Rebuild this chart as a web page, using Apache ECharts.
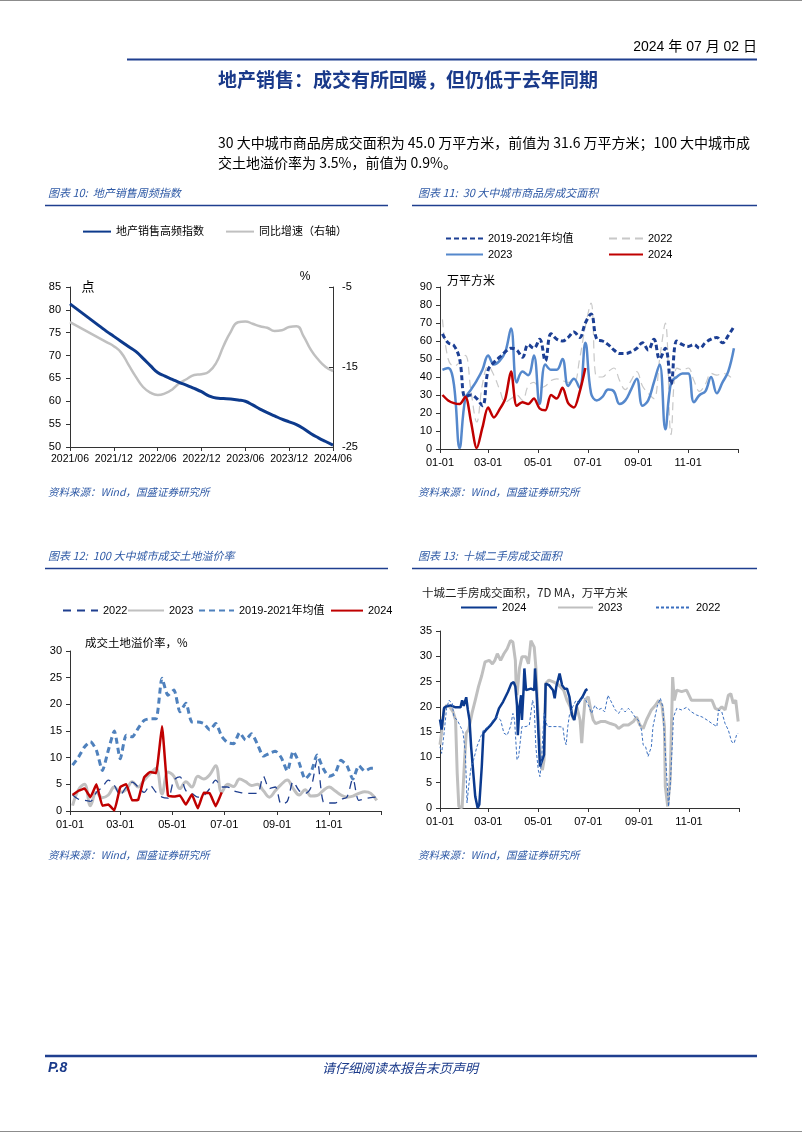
<!DOCTYPE html>
<html><head><meta charset="utf-8">
<script src="https://cdn.jsdelivr.net/npm/echarts@6/dist/echarts.min.js"></script>
<style>html,body{margin:0;padding:0;background:#fff}#c{width:802px;height:1133px}</style>
</head><body><div id="c"></div>
<script>
// ---------- Chart 10 data (monthly) ----------
const cat10 = ['2021/06','2021/07','2021/08','2021/09','2021/10','2021/11','2021/12',
  '2022/01','2022/02','2022/03','2022/04','2022/05','2022/06','2022/07','2022/08','2022/09','2022/10','2022/11','2022/12',
  '2023/01','2023/02','2023/03','2023/04','2023/05','2023/06','2023/07','2023/08','2023/09','2023/10','2023/11','2023/12',
  '2024/01','2024/02','2024/03','2024/04','2024/05','2024/06'];
const idx10 = [81.3,80.1,78.9,77.7,76.5,75.3,74.2,73.1,72.0,70.9,69.4,67.8,66.3,65.5,64.8,64.1,63.5,62.8,62.1,
  61.2,60.7,60.6,60.5,60.3,60.0,59.2,58.3,57.5,56.8,56.1,55.5,54.9,54.0,52.9,52.0,51.2,50.4];
const yoy10 = [-9.4,-9.9,-10.4,-10.9,-11.4,-11.9,-12.4,-13.2,-14.7,-16.2,-17.5,-18.2,-18.5,-18.3,-17.8,-17.0,-16.5,-16.0,-15.9,
  -15.6,-14.5,-12.4,-10.6,-9.4,-9.3,-9.6,-9.9,-10.1,-10.5,-10.4,-10.0,-9.9,-11.2,-12.9,-14.1,-15.0,-15.5];

// ---------- Chart 11 data (weekly, first week '01-04') ----------
const c11Avg = [64,59,57.5,50,29,30,28,24,44,48,51,54,56,55,51,58,56,61,49,64,61,60,62,65,62,70,75,61,60,58,55,53,53,54,56,59,55,61,50,56,36,60,58,57,58,56,59,61,62,59,63,68];
const c11Y2022 = [72,50,46,48,52,32,15,36,46,41,33,26,28,30,27,35,37,34,35,38,39,38,37,37,50,68,81,40,40,43,45,38,33,38,43,35,31,28,50,70,8,45,44,45,38,32,36,42,41,42,41,38];
const c11Y2023 = [44,45,36,0.5,28,33,38,44,52,47,49,54,67,37,43,41,52,25,47,44,44,50,35,39,34,59,31,27,29,33,32,25,27,33,39,24,27,37,47,11,37,40,42,42,26,30,32,40,31,37,43,56];
const c11Y2024 = [30,27,25.5,25,29,15,0.5,12,23,17.5,22,28,43,24,26,25,28,22.5,21.5,30,28,34,25.5,23,31.6,45.0];

// ---------- Chart 12 data (weekly, first week '01-04') ----------
const c12Y2022 = [3.0,2.2,2.0,1.8,3.5,4.5,5.8,4.8,3.0,4.5,5.4,4.5,3.5,4.8,3.5,2.6,2.4,5.8,6.4,3.8,3.3,2.6,2.9,4.2,5.8,4.5,
  4.5,3.8,3.5,3.3,3.3,3.3,6.5,4.2,4.5,1.3,1.8,5.5,3.8,3.3,4.5,9.5,1.8,1.5,1.5,2.2,2.6,6.0,2.0,2.3,2.5,2.6];
const c12Y2023 = [1.0,4.0,5.0,1.0,3.5,2.5,3.0,4.5,3.5,4.0,5.5,4.5,5.8,7.0,8.0,3.2,7.3,6.5,4.2,5.5,4.5,6.5,6.0,6.8,8.5,3.5,
  5.0,4.6,6.0,5.5,4.8,5.0,3.8,2.6,3.8,5.0,5.8,4.2,3.0,4.0,2.8,2.9,3.8,4.5,3.8,3.0,2.6,2.8,3.3,3.6,3.3,2.0];
const c12Avg = [8.6,10.1,12,13,11.4,7.6,11.4,15,9.8,14.2,13.9,15.5,17,17.3,17.3,24.9,21.7,22.7,18.6,20.2,16.7,16.7,16.4,15.2,16.4,14.0,
  12.8,12.6,14.7,13.3,14.5,12.5,10.3,10.8,11.2,10,7.5,11.2,9,6,7.3,10.5,8,6.5,7,9.5,8.5,6,8.5,7.5,8,8];
const c12Y2024 = [3.0,3.8,4.2,2.6,5.0,1.0,1.2,0.1,4.5,5.0,2.0,2.1,6.3,7.3,7.1,15.9,2.9,2.7,2.9,1.2,3.1,0.5,3.4,3.3,0.9,3.5];

// ---------- Chart 13 data (7D MA, [MM-DD, value]) ----------
const c13Y2024 = [['01-01',17.5],['01-03',15.5],['01-06',19.8],['01-09',20.1],['01-14',20.3],['01-20',19.9],['01-26',19.9],['01-28',21.3],['01-30',20.2],
  ['02-02',21.9],['02-04',19.4],['02-06',17.4],['02-08',12.1],['02-10',8.2],['02-13',2.3],['02-16',0],['02-18',0.7],['02-21',8.2],['02-23',14.8],['02-26',15.4],
  ['03-04',16.4],['03-10',17.7],['03-14',19.7],['03-19',21.0],['03-25',23.0],['03-29',24.6],['04-01',24.9],['04-03',24.0],['04-05',20.3],['04-06',14.4],
  ['04-08',20.0],['04-10',22.3],['04-11',17.4],['04-13',23.3],['04-14',27.6],['04-16',23.3],['04-22',23.6],['04-26',23.3],['04-27',27.6],['04-29',22.6],
  ['05-01',15.4],['05-03',8.2],['05-05',8.5],['05-08',10.5],['05-10',24.6],['05-14',24.3],['05-19',23.3],['05-21',21.7],['05-23',24.0],['05-27',26.6],
  ['05-30',24.3],['06-02',23.6],['06-05',23.6],['06-08',22.0],['06-11',18.4],['06-14',17.4],['06-17',20.3],['06-21',21.3],['06-24',22.0],['06-28',23.3],['06-30',23.5]];
const c13Y2023 = [['01-01',12.5],['01-03',15.0],['01-06',19.5],['01-09',20.3],['01-13',20.0],['01-17',19.0],['01-20',17.4],['01-22',6.9],['01-24',0.3],['01-28',0],
  ['01-31',9.5],['02-02',14.8],['02-05',15.5],['02-09',18.7],['02-13',21.3],['02-17',24.0],['02-21',26.2],['02-25',28.9],['03-02',29.2],['03-06',28.5],
  ['03-09',29.2],['03-12',30.5],['03-16',29.2],['03-20',30.5],['03-24',31.5],['03-28',33.1],['03-31',32.8],['04-03',29.2],['04-04',24.0],['04-05',22.3],
  ['04-08',27.6],['04-11',29.9],['04-16',29.9],['04-19',28.5],['04-22',33.1],['04-26',31.8],['04-28',27.9],['04-30',20.7],['05-02',14.8],['05-04',8.9],
  ['05-06',7.5],['05-08',9.5],['05-10',24.6],['05-14',25.3],['05-20',24.9],['05-26',24.3],['06-01',23.3],['06-05',21.3],['06-09',20.0],['06-13',17.4],
  ['06-17',20.0],['06-21',17.4],['06-23',12.8],['06-25',17.4],['06-27',21.3],['07-01',22.0],['07-04',19.4],['07-07',17.4],['07-10',16.7],['07-16',17.1],
  ['07-22',17.1],['07-28',16.7],['08-03',16.4],['08-07',15.7],['08-13',16.4],['08-19',16.4],['08-25',17.1],['08-29',18.0],['09-02',16.4],['09-06',15.7],
  ['09-10',17.4],['09-16',19.4],['09-21',20.3],['09-25',21.3],['09-29',20.3],['10-02',16.1],['10-03',4.3],['10-06',0.3],['10-09',5.6],['10-12',25.9],
  ['10-14',21.3],['10-17',23.3],['10-23',23.0],['10-29',23.3],['11-04',21.3],['11-10',21.3],['11-17',21.3],['11-23',21.3],['11-29',21.3],['12-03',19.7],
  ['12-07',19.4],['12-11',20.0],['12-15',19.4],['12-19',22.3],['12-22',22.6],['12-25',20.7],['12-28',21.3],['12-31',17.1]];
const c13Y2022 = [['01-01',12.1],['01-03',10.8],['01-06',14.8],['01-09',19.7],['01-12',21.3],['01-16',20.7],['01-18',18.0],['01-22',17.4],['01-26',16.1],['01-29',15.1],
  ['02-01',10.8],['02-03',1.0],['02-05',4.3],['02-08',8.2],['02-11',9.5],['02-13',10.8],['02-15',12.1],['02-19',13.8],['02-23',15.4],['03-01',16.1],
  ['03-07',17.4],['03-11',18.0],['03-16',17.4],['03-20',14.8],['03-24',14.4],['03-28',16.1],['03-31',18.7],['04-02',17.4],['04-05',9.5],['04-07',10.2],
  ['04-11',16.1],['04-16',16.1],['04-20',16.4],['04-24',21.3],['04-26',20.0],['04-28',12.1],['05-01',7.5],['05-03',6.2],['05-05',9.5],['05-08',18.7],
  ['05-12',16.1],['05-18',16.1],['05-25',16.1],['05-31',16.0],['06-02',13.5],['06-04',12.5],['06-06',16.1],['06-08',18.4],['06-12',20.0],['06-16',21.3],
  ['06-20',20.7],['06-24',22.0],['06-28',21.3],['07-02',20.0],['07-05',18.7],['07-09',20.3],['07-13',19.4],['07-17',19.7],['07-21',19.0],['07-25',22.3],
  ['07-30',20.7],['08-03',19.4],['08-07',18.7],['08-11',19.7],['08-15',19.0],['08-19',19.7],['08-23',19.0],['08-27',18.0],['08-31',17.4],['09-04',15.4],
  ['09-06',12.5],['09-09',12.1],['09-12',10.2],['09-16',12.1],['09-18',16.1],['09-23',20.0],['09-27',21.7],['09-30',20.0],['10-02',14.1],['10-05',5.6],
  ['10-07',0.3],['10-09',4.3],['10-12',14.1],['10-13',18.0],['10-17',19.7],['10-23',19.4],['10-29',19.9],['11-04',19.0],['11-10',18.4],['11-17',18.0],
  ['11-23',17.4],['11-29',16.7],['12-05',16.1],['12-07',19.4],['12-11',19.0],['12-15',16.7],['12-19',15.4],['12-23',13.1],['12-26',12.8],['12-29',14.4],['12-31',14.8]];

// ---------- tick labels for the day axes ----------
const dayTickLabels = ['01-01','03-01','05-01','07-01','09-01','11-01'];
const FIRST_WEEK = '01-04';

// ---------- helpers ----------
const CUM = [0,31,59,90,120,151,181,212,243,273,304,334];
function doy(s){ const p = s.split('-').map(Number); return CUM[p[0]-1] + p[1] - 1; }
function weekly(arr){ const d0 = doy(FIRST_WEEK); return arr.map((v,i)=>[d0 + 7*i, v]); }
function dated(arr){ return arr.map(p=>[doy(p[0]), p[1]]); }
const labelDays = dayTickLabels.map(doy);
const tickDays = labelDays.concat([365]);
const dayLabelMap = {}; dayTickLabels.forEach(l=>{ dayLabelMap[doy(l)] = l; });

const NUM = '"Liberation Sans", Arial, "Noto Sans CJK SC", sans-serif';
const CJK = '"Noto Sans CJK SC", "Liberation Sans", sans-serif';
const AX = '#333';
const BLUE_T = '#2f5aa6';

function dayX(gi){
  return {type:'value', gridIndex:gi, min:0, max:365,
    axisLine:{lineStyle:{color:AX, width:1}},
    axisTick:{customValues:tickDays, length:4, lineStyle:{color:AX}},
    axisLabel:{customValues:labelDays, formatter:v=>dayLabelMap[v]||'', fontSize:11, color:'#000', fontFamily:NUM, margin:8},
    splitLine:{show:false}};
}
function valY(gi, min, max, itv, extra){
  return Object.assign({type:'value', gridIndex:gi, min:min, max:max, interval:itv,
    axisLine:{show:true, lineStyle:{color:AX, width:1}},
    axisTick:{show:true, length:4, lineStyle:{color:AX}},
    axisLabel:{fontSize:11, color:'#000', fontFamily:NUM, margin:8},
    splitLine:{show:false}}, extra||{});
}
function leg(name, x, yc, w){
  return {data:[name], left:x, top:yc-7, itemWidth:w, itemHeight:14, padding:0, itemGap:0,
    itemStyle:{color:'rgba(0,0,0,0)', borderColor:'rgba(0,0,0,0)', borderWidth:0, opacity:0},
    formatter:n=>n.split('|')[1], textStyle:{fontSize:11, color:'#000', fontFamily:NUM}, selectedMode:false};
}
function txt(text, x, y, font, fill, align){
  return {type:'text', x:x, y:y, silent:true,
    style:{text:text, font:font, fill:fill||'#000', textAlign:align||'left', textVerticalAlign:'middle', align:align||'left', verticalAlign:'middle'}};
}
function hline(x1, x2, y, color, w){
  return {type:'line', silent:true, shape:{x1:x1, y1:y, x2:x2, y2:y}, style:{stroke:color, lineWidth:w}};
}

const option = {
  animation:false,
  backgroundColor:'#fff',
  grid:[
    {left:70, top:287, width:263, height:160},
    {left:440, top:287, width:298, height:162},
    {left:70, top:651, width:311, height:160},
    {left:440, top:631, width:299, height:177}
  ],
  xAxis:[
    {type:'category', gridIndex:0, data:cat10, boundaryGap:false,
     axisLine:{lineStyle:{color:AX}}, axisTick:{interval:5, length:4, lineStyle:{color:AX}},
     axisLabel:{interval:5, fontSize:10.5, color:'#000', fontFamily:NUM, margin:7}},
    dayX(1), dayX(2), dayX(3)
  ],
  yAxis:[
    valY(0, 50, 85, 5, {axisLabel:{fontSize:11, color:'#000', fontFamily:NUM, margin:9}}),
    valY(0, -25, -5, 10, {position:'right', axisTick:{show:true, inside:true, length:4, lineStyle:{color:AX}},
       axisLabel:{fontSize:11, color:'#000', fontFamily:NUM, margin:9}}),
    valY(1, 0, 90, 10),
    valY(2, 0, 30, 5),
    valY(3, 0, 35, 5)
  ],
  legend:[
    leg('c10|地产销售高频指数', 82, 233, 28),
    leg('c10|同比增速（右轴）', 225, 233, 28),
    leg('c11|2019-2021年均值', 445, 240, 37),
    leg('c11|2022', 608, 240, 34),
    leg('c11|2023', 445, 256, 37),
    leg('c11|2024', 608, 256, 34),
    leg('c12|2022', 62, 612, 35),
    leg('c12|2023', 127, 612, 36),
    leg('c12|2019-2021年均值', 198, 612, 35),
    leg('c12|2024', 330, 612, 32),
    leg('c13|2024', 460, 609, 36),
    leg('c13|2023', 557, 609, 35),
    leg('c13|2022', 655, 609, 35)
  ],
  series:[
    {name:'c10|同比增速（右轴）', type:'line', xAxisIndex:0, yAxisIndex:1, data:yoy10, smooth:true, symbol:'none',
     lineStyle:{color:'#c0c0c0', width:2.5}, itemStyle:{color:'#c0c0c0'}},
    {name:'c10|地产销售高频指数', type:'line', xAxisIndex:0, yAxisIndex:0, data:idx10, smooth:true, symbol:'none',
     lineStyle:{color:'#0d3a8c', width:3}, itemStyle:{color:'#0d3a8c'}},

    {name:'c11|2022', type:'line', xAxisIndex:1, yAxisIndex:2, data:weekly(c11Y2022), smooth:0.4, symbol:'none',
     lineStyle:{color:'#c8c8c8', width:1.2, type:[8,5]}, itemStyle:{color:'#c8c8c8'}},
    {name:'c11|2023', type:'line', xAxisIndex:1, yAxisIndex:2, data:weekly(c11Y2023), smooth:0.4, symbol:'none',
     lineStyle:{color:'#5588cc', width:2.5}, itemStyle:{color:'#5588cc'}},
    {name:'c11|2019-2021年均值', type:'line', xAxisIndex:1, yAxisIndex:2, data:weekly(c11Avg), smooth:0.4, symbol:'none',
     lineStyle:{color:'#1c3f94', width:3, type:[5,3]}, itemStyle:{color:'#1c3f94'}},
    {name:'c11|2024', type:'line', xAxisIndex:1, yAxisIndex:2, data:weekly(c11Y2024), smooth:0.3, symbol:'none',
     lineStyle:{color:'#c00000', width:2.5}, itemStyle:{color:'#c00000'}},

    {name:'c12|2023', type:'line', xAxisIndex:2, yAxisIndex:3, data:weekly(c12Y2023), smooth:0.4, symbol:'none',
     lineStyle:{color:'#c0c0c0', width:3}, itemStyle:{color:'#c0c0c0'}},
    {name:'c12|2022', type:'line', xAxisIndex:2, yAxisIndex:3, data:weekly(c12Y2022), smooth:0.3, symbol:'none',
     lineStyle:{color:'#1f3f8f', width:1.3, type:[8,6]}, itemStyle:{color:'#1f3f8f'}},
    {name:'c12|2019-2021年均值', type:'line', xAxisIndex:2, yAxisIndex:3, data:weekly(c12Avg), smooth:0.2, symbol:'none',
     lineStyle:{color:'#4f81bd', width:3, type:[6,4]}, itemStyle:{color:'#4f81bd'}},
    {name:'c12|2024', type:'line', xAxisIndex:2, yAxisIndex:3, data:weekly(c12Y2024), smooth:0.1, symbol:'none',
     lineStyle:{color:'#c00000', width:2.5}, itemStyle:{color:'#c00000'}},

    {name:'c13|2023', type:'line', xAxisIndex:3, yAxisIndex:4, data:dated(c13Y2023), symbol:'none',
     lineStyle:{color:'#bfbfbf', width:3}, itemStyle:{color:'#bfbfbf'}},
    {name:'c13|2024', type:'line', xAxisIndex:3, yAxisIndex:4, data:dated(c13Y2024), symbol:'none',
     lineStyle:{color:'#0b3a8f', width:2.5}, itemStyle:{color:'#0b3a8f'}},
    {name:'c13|2022', type:'line', xAxisIndex:3, yAxisIndex:4, data:dated(c13Y2022), symbol:'none',
     lineStyle:{color:'#3a6fc0', width:1, type:[3,2]}, itemStyle:{color:'#3a6fc0'}}
  ],
  graphic:[
    hline(0, 802, 0.5, '#8c8c8c', 1),
    hline(0, 802, 1131.5, '#8c8c8c', 1),
    txt('2024 年 07 月 02 日', 757, 47, '14px ' + NUM, '#000', 'right'),
    hline(127, 757, 59.5, '#1f3f8f', 2),
    txt('地产销售：成交有所回暖，但仍低于去年同期', 218, 80, 'bold 19px ' + CJK, '#1a3a8a'),
    txt('30 大中城市商品房成交面积为 45.0 万平方米，前值为 31.6 万平方米；100 大中城市成', 218, 143, '14px ' + CJK, '#000'),
    txt('交土地溢价率为 3.5%，前值为 0.9%。', 218, 163, '14px ' + CJK, '#000'),

    txt('图表 10:  地产销售周频指数', 48, 193, 'italic 11px ' + CJK, BLUE_T),
    hline(45, 388, 205.5, '#1f3f8f', 1.5),
    txt('图表 11:  30 大中城市商品房成交面积', 418, 193, 'italic 11px ' + CJK, BLUE_T),
    hline(412, 757, 205.5, '#1f3f8f', 1.5),
    txt('资料来源：Wind，国盛证券研究所', 48, 492, 'italic 10.5px ' + CJK, BLUE_T),
    txt('资料来源：Wind，国盛证券研究所', 418, 492, 'italic 10.5px ' + CJK, BLUE_T),

    txt('图表 12:  100 大中城市成交土地溢价率', 48, 556, 'italic 11px ' + CJK, BLUE_T),
    hline(45, 388, 568.5, '#1f3f8f', 1.5),
    txt('图表 13:  十城二手房成交面积', 418, 556, 'italic 11px ' + CJK, BLUE_T),
    hline(412, 757, 568.5, '#1f3f8f', 1.5),
    txt('资料来源：Wind，国盛证券研究所', 48, 855, 'italic 10.5px ' + CJK, BLUE_T),
    txt('资料来源：Wind，国盛证券研究所', 418, 855, 'italic 10.5px ' + CJK, BLUE_T),

    txt('点', 88, 286, '13px ' + CJK, '#000', 'center'),
    txt('%', 305, 277, '12px ' + NUM, '#000', 'center'),
    txt('万平方米', 447, 280, '12px ' + CJK, '#000'),
    txt('成交土地溢价率，%', 85, 643, '11.5px ' + CJK, '#000'),
    txt('十城二手房成交面积，7D MA，万平方米', 422, 593, '11.5px ' + CJK, '#222'),

    hline(45, 757, 1056, '#1f3f8f', 2.5),
    txt('P.8', 48, 1068, 'italic bold 14px ' + NUM, '#1a3a8a'),
    txt('请仔细阅读本报告末页声明', 400, 1068, 'italic 13px ' + CJK, '#1a3a8a', 'center')
  ]
};
const chart = echarts.init(document.getElementById('c'), null, {renderer:'canvas', width:802, height:1133});
chart.setOption(option);
</script></body></html>
